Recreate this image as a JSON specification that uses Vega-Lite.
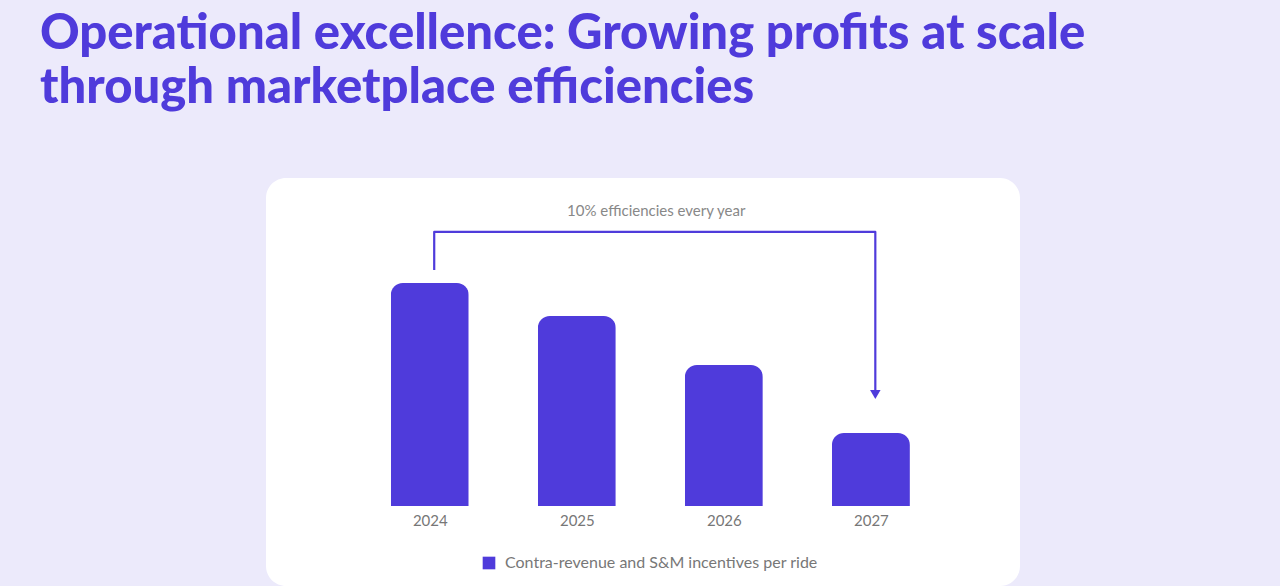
{
  "$schema": "https://vega.github.io/schema/vega-lite/v6.json",
  "width": 754,
  "height": 408,
  "autosize": {"type": "none"},
  "padding": {"left": 266, "top": 178, "right": 260, "bottom": 0},
  "background": "#ECEAFB",
  "config": {
    "view": {"fill": "#FFFFFF", "stroke": null, "cornerRadius": 20},
    "font": "Lato"
  },
  "title": {
    "text": ["Operational excellence: Growing profits at scale", "through marketplace efficiencies"],
    "anchor": "start",
    "frame": "group",
    "dx": -226,
    "dy": 5,
    "font": "Lato",
    "fontSize": 49,
    "fontWeight": 900,
    "color": "#4F3BDB",
    "lineHeight": 54,
    "offset": 70
  },
  "datasets": {
    "bars": [
      {"year": 2024, "value": 100, "series": "Contra-revenue and S&M incentives per ride"},
      {"year": 2025, "value": 85.2, "series": "Contra-revenue and S&M incentives per ride"},
      {"year": 2026, "value": 63.2, "series": "Contra-revenue and S&M incentives per ride"},
      {"year": 2027, "value": 32.7, "series": "Contra-revenue and S&M incentives per ride"}
    ],
    "bracket": [
      {"step": 1, "year": 2024.03, "value": 105.8},
      {"step": 2, "year": 2024.03, "value": 122.9},
      {"step": 3, "year": 2027.03, "value": 122.9},
      {"step": 4, "year": 2027.03, "value": 50}
    ],
    "arrow": [{"year": 2027.03, "value": 50}],
    "note": [{"year": 2025.54, "value": 132.3, "text": "10% efficiencies every year"}]
  },
  "layer": [
    {
      "data": {"name": "bars"},
      "mark": {"type": "bar", "width": 78, "cornerRadiusTopLeft": 12, "cornerRadiusTopRight": 12},
      "encoding": {
        "x": {
          "field": "year", "type": "quantitative",
          "scale": {"domain": [2022.92, 2027.98], "nice": false, "zero": false},
          "axis": {
            "values": [2024, 2025, 2026, 2027], "format": "d", "title": null,
            "domain": false, "ticks": false, "grid": false,
            "labelFontSize": 15, "labelColor": "#777777", "labelFont": "Lato",
            "offset": -80, "labelPadding": 7
          }
        },
        "y": {
          "field": "value", "type": "quantitative",
          "scale": {"domain": [-35.87, 147.09], "nice": false, "zero": false},
          "axis": null
        },
        "color": {
          "field": "series", "type": "nominal",
          "scale": {"range": ["#4F3BDB"]},
          "legend": {
            "orient": "none", "legendX": 215, "legendY": 377, "title": null,
            "symbolType": "square", "symbolSize": 160, "symbolStrokeWidth": 0,
            "labelFontSize": 16, "labelColor": "#777777", "labelFont": "Lato",
            "labelLimit": 600, "labelOffset": 8
          }
        }
      }
    },
    {
      "mark": {"type": "rule", "color": "#707070", "strokeWidth": 1.2},
      "encoding": {
        "x": {"datum": 2023.456, "type": "quantitative"},
        "x2": {"datum": 2027.646},
        "y": {"datum": 0, "type": "quantitative"}
      }
    },
    {
      "data": {"name": "bracket"},
      "mark": {"type": "line", "color": "#4F3BDB", "strokeWidth": 2.2, "strokeJoin": "round"},
      "encoding": {
        "x": {"field": "year", "type": "quantitative"},
        "y": {"field": "value", "type": "quantitative"},
        "order": {"field": "step"}
      }
    },
    {
      "data": {"name": "arrow"},
      "mark": {"type": "point", "shape": "triangle-down", "filled": true, "size": 110, "color": "#4F3BDB", "opacity": 1},
      "encoding": {
        "x": {"field": "year", "type": "quantitative"},
        "y": {"field": "value", "type": "quantitative"}
      }
    },
    {
      "data": {"name": "note"},
      "mark": {"type": "text", "font": "Lato", "fontSize": 15, "color": "#888888", "align": "center", "baseline": "middle"},
      "encoding": {
        "x": {"field": "year", "type": "quantitative"},
        "y": {"field": "value", "type": "quantitative"},
        "text": {"field": "text"}
      }
    }
  ]
}
